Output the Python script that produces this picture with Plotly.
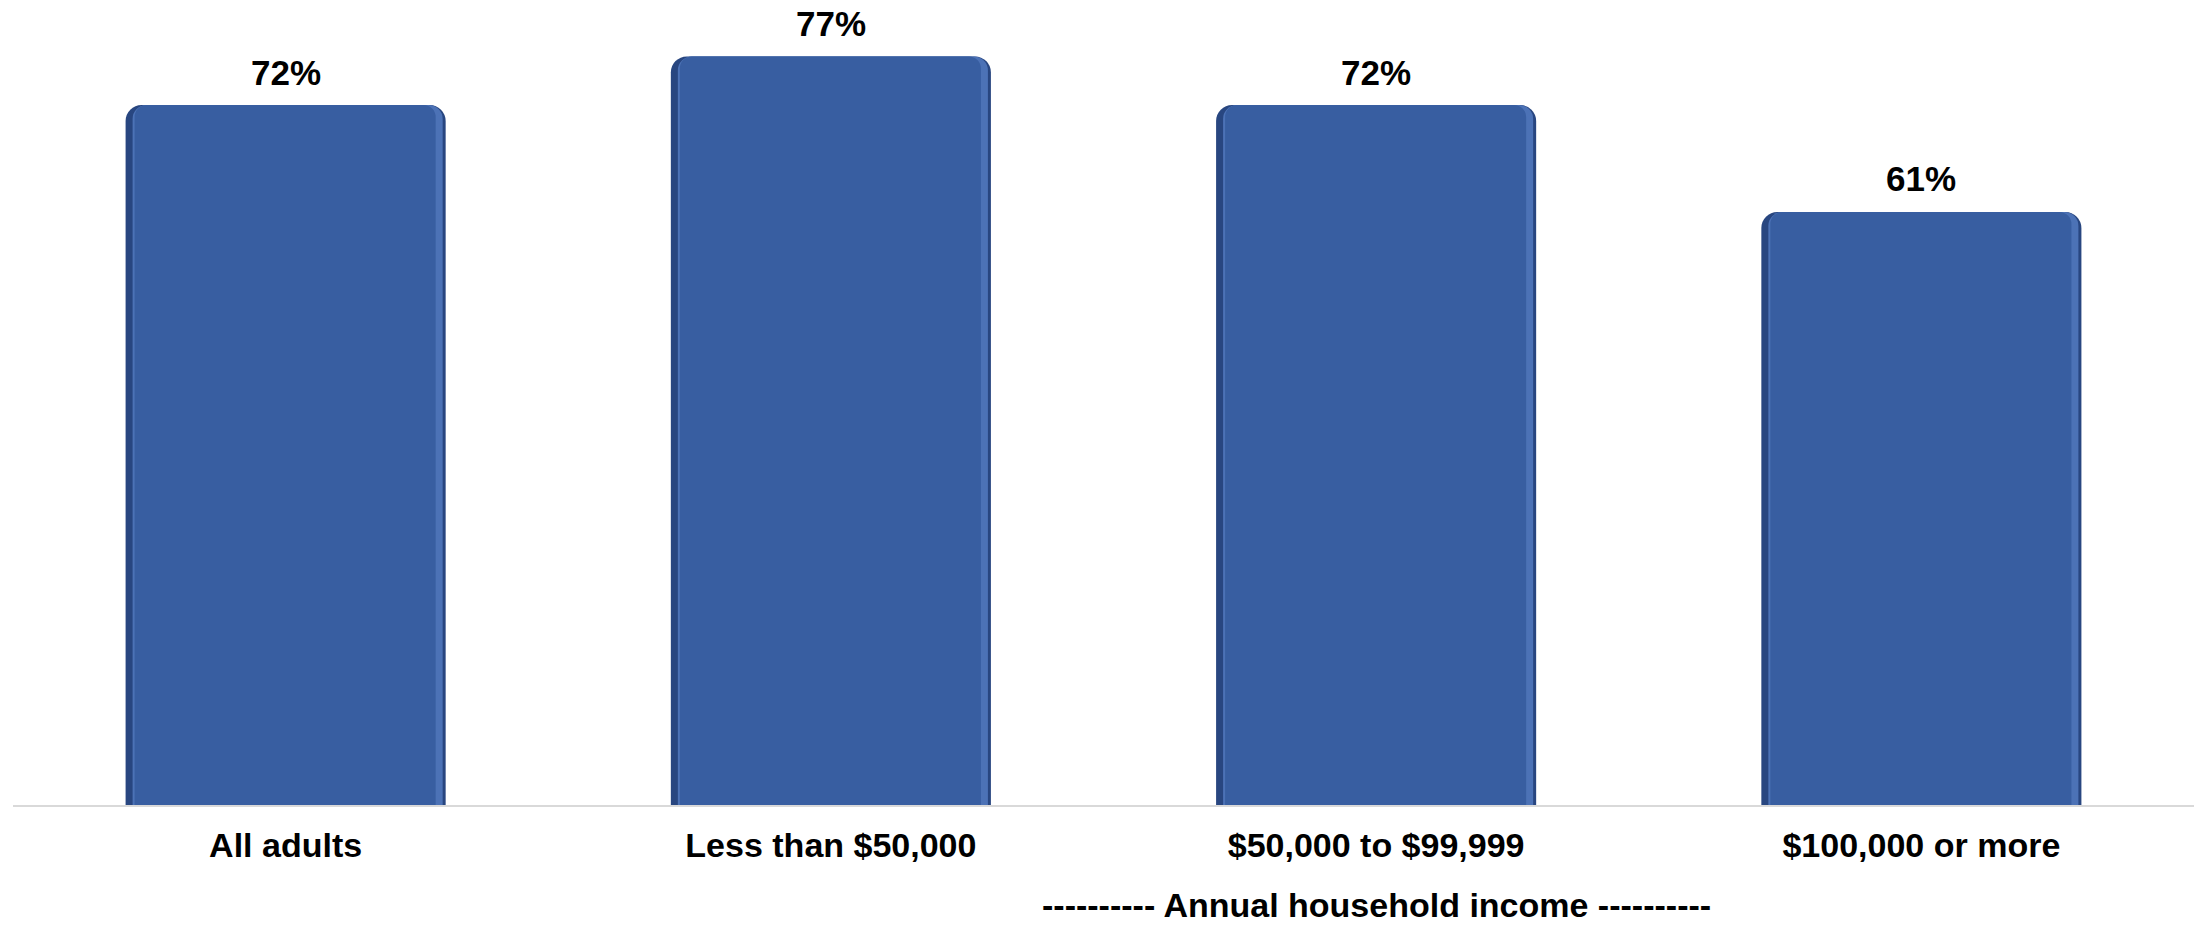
import plotly.graph_objects as go

categories = ["All adults", "Less than $50,000", "$50,000 to $99,999", "$100,000 or more"]
values = [72, 77, 72, 61]
labels = ["72%", "77%", "72%", "61%"]
group_title = "---------- Annual household income ----------"

FONT = "Liberation Sans, Arial, sans-serif"
W, H = 2202, 925
ML, MR, MT, MB = 13, 8, 0, 120
plot_h = H - MT - MB
px_per_cat = 545.0
bar_w = 0.587

fig = go.Figure()

# outer dark edge
fig.add_trace(go.Bar(
    x=categories, y=values, width=bar_w, offset=-bar_w / 2,
    marker=dict(color="#284680", cornerradius=16, line=dict(width=0)),
    hoverinfo="skip",
))
# light right-side stripe
li, ri = 7 / px_per_cat, 3 / px_per_cat
fig.add_trace(go.Bar(
    x=categories, y=values, width=bar_w - li - ri, offset=-bar_w / 2 + li,
    marker=dict(color="#4C72B6", cornerradius=14, line=dict(width=0)),
    hoverinfo="skip",
))
# main fill
li2, ri2 = 9 / px_per_cat, 10 / px_per_cat
fig.add_trace(go.Bar(
    x=categories, y=values, width=bar_w - li2 - ri2, offset=-bar_w / 2 + li2,
    marker=dict(color="#385EA1", cornerradius=12, line=dict(width=0)),
    hoverinfo="skip",
))

annotations = [dict(
    x=c, y=v, xref="x", yref="y", text="<b>" + t + "</b>",
    showarrow=False, yanchor="middle", yshift=33,
    font=dict(family=FONT, size=35, color="#000000"),
) for c, v, t in zip(categories, values, labels)]

annotations.append(dict(
    text="<b>" + group_title + "</b>", xref="paper", yref="paper",
    x=(1376 - ML) / (W - ML - MR), y=(plot_h - 905) / plot_h,
    yanchor="middle", xanchor="center",
    showarrow=False,
    font=dict(family=FONT, size=34, color="#000000"),
))

fig.update_layout(
    width=W, height=H,
    margin=dict(l=ML, r=MR, t=MT, b=MB),
    paper_bgcolor="white", plot_bgcolor="white",
    barmode="overlay",
    showlegend=False,
    xaxis=dict(
        showline=True, linecolor="#D9D9D9", linewidth=2,
        showgrid=False, ticks="", ticklabelstandoff=9, automargin=False,
        tickfont=dict(family=FONT, size=34, color="#000000"),
        tickprefix="<b>", ticksuffix="</b>",
    ),
    yaxis=dict(range=[0, 82.8], visible=False, showgrid=False, zeroline=False,
               automargin=False),
    annotations=annotations,
)

fig.write_html("out.html", config={"displayModeBar": False},
               post_script="document.body.style.margin='0';")
